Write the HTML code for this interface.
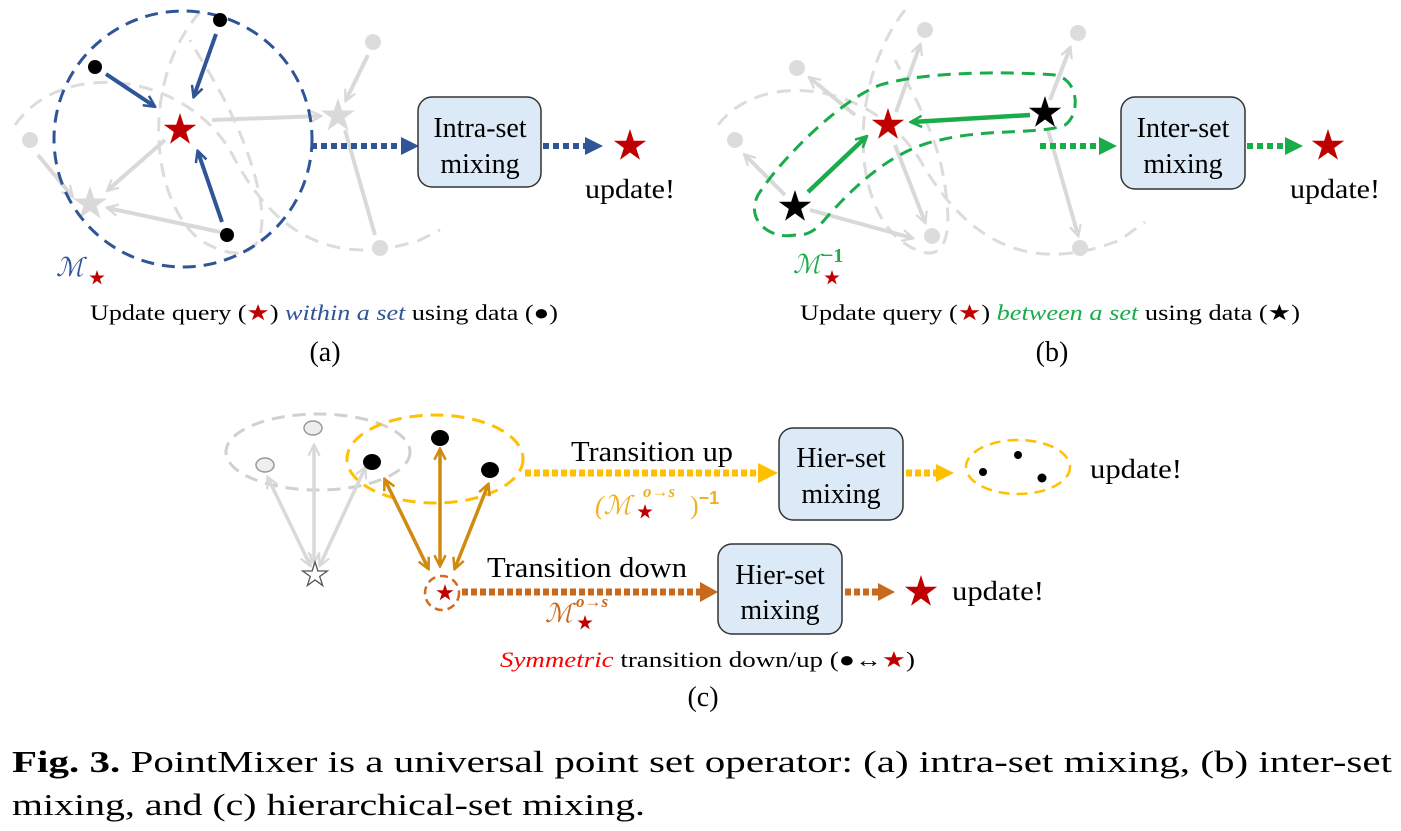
<!DOCTYPE html>
<html><head><meta charset="utf-8"><style>
html,body{margin:0;padding:0;background:#fff}
svg{display:block}
text{font-family:"Liberation Serif",serif}
</style></head><body>
<svg width="1401" height="831" viewBox="0 0 1401 831" xmlns="http://www.w3.org/2000/svg">
<defs>
<path id="st" d="M0,-1 L0.225,-0.309 L0.951,-0.309 L0.363,0.118 L0.588,0.809 L0,0.382 L-0.588,0.809 L-0.363,0.118 L-0.951,-0.309 L-0.225,-0.309Z"/>
<marker id="agg" viewBox="0 0 10 10" markerWidth="14" markerHeight="14" refX="8" refY="5" orient="auto-start-reverse" markerUnits="userSpaceOnUse"><path d="M1,1 L9,5 L1,9" fill="none" stroke="#d9d9d9" stroke-width="1.6"/></marker>
<marker id="ab" viewBox="0 0 10 10" markerWidth="14" markerHeight="14" refX="8" refY="5" orient="auto" markerUnits="userSpaceOnUse"><path d="M1,1 L9,5 L1,9" fill="none" stroke="#2f5597" stroke-width="1.8"/></marker>
<marker id="agr" viewBox="0 0 10 10" markerWidth="14" markerHeight="14" refX="8" refY="5" orient="auto" markerUnits="userSpaceOnUse"><path d="M1,1 L9,5 L1,9" fill="none" stroke="#1aab4b" stroke-width="1.8"/></marker>
<marker id="ao" viewBox="0 0 10 10" markerWidth="14" markerHeight="14" refX="8" refY="5" orient="auto-start-reverse" markerUnits="userSpaceOnUse"><path d="M1,1 L9,5 L1,9" fill="none" stroke="#d08a10" stroke-width="1.8"/></marker>
</defs>

<!-- ===== (a) ===== -->
<g fill="none" stroke="#dcdcdc" stroke-width="3" stroke-dasharray="14,9">
<path d="M15,125 C60,60 180,70 230,150 C270,230 330,270 420,240 L440,230"/>
<path d="M200,12 C140,80 150,200 200,240 C250,270 280,250 250,160 C230,100 200,60 190,40"/>
</g>
<g fill="#dcdcdc"><circle cx="30" cy="140" r="8"/><circle cx="373" cy="42" r="8"/><circle cx="380" cy="248" r="8"/></g>
<g stroke="#d9d9d9" stroke-width="4" fill="none" marker-end="url(#agg)">
<line x1="212" y1="120" x2="320" y2="116"/>
<line x1="165" y1="140" x2="108" y2="190"/>
<line x1="220" y1="232" x2="108" y2="208"/>
<line x1="368" y1="55" x2="346" y2="100"/>
<line x1="38" y1="155" x2="72" y2="196"/>
</g>
<line x1="345" y1="130" x2="375" y2="235" stroke="#d9d9d9" stroke-width="4"/>
<use href="#st" transform="translate(338,116) scale(18)" fill="#d9d9d9"/>
<use href="#st" transform="translate(90,204) scale(18)" fill="#d9d9d9"/>
<ellipse cx="183" cy="139" rx="129" ry="128" fill="none" stroke="#2f5597" stroke-width="3" stroke-dasharray="13,8"/>
<g stroke="#2f5597" stroke-width="4" fill="none" marker-end="url(#ab)">
<line x1="106" y1="74" x2="154" y2="106"/>
<line x1="216" y1="34" x2="194" y2="96"/>
<line x1="222" y1="222" x2="198" y2="152"/>
</g>
<g fill="#000"><circle cx="220" cy="20" r="7"/><circle cx="95" cy="67" r="7"/><circle cx="227" cy="235" r="7"/></g>
<use href="#st" transform="translate(180,130) scale(17)" fill="#c00000"/>
<line x1="311" y1="146" x2="402" y2="146" stroke="#2f5597" stroke-width="6" stroke-dasharray="6,4"/>
<path d="M401,137 L419,146 L401,155Z" fill="#2f5597"/>
<rect x="418" y="97" width="123" height="90" rx="14" fill="#dce9f6" stroke="#333" stroke-width="1.5"/>
<text x="480" y="137" font-size="28" text-anchor="middle">Intra-set</text>
<text x="480" y="173" font-size="28" text-anchor="middle">mixing</text>
<line x1="543" y1="146" x2="586" y2="146" stroke="#2f5597" stroke-width="6" stroke-dasharray="6,4"/>
<path d="M585,137 L603,146 L585,155Z" fill="#2f5597"/>
<use href="#st" transform="translate(630,146) scale(17)" fill="#c00000"/>
<text x="585" y="198" font-size="27" textLength="90" lengthAdjust="spacingAndGlyphs">update!</text>
<text x="56" y="276" font-size="26" font-style="italic" fill="#2f5597">ℳ</text>
<use href="#st" transform="translate(97,278) scale(8)" fill="#c00000"/>
<text x="90" y="320" font-size="22" textLength="468" lengthAdjust="spacingAndGlyphs">Update query (<tspan fill="#c00000">★</tspan>) <tspan font-style="italic" fill="#2f5597">within a set</tspan>  using data (●)</text>
<text x="325" y="361" font-size="28" text-anchor="middle">(a)</text>

<!-- ===== (b) ===== -->
<g fill="none" stroke="#dcdcdc" stroke-width="3" stroke-dasharray="14,9">
<path d="M718,125 C760,70 870,80 920,160 C960,230 1020,280 1120,240 L1145,222"/>
<path d="M905,10 C850,80 850,200 900,240 C940,270 960,250 940,160 C925,110 905,80 895,60"/>
</g>
<g fill="#dcdcdc"><circle cx="925" cy="30" r="8"/><circle cx="1078" cy="33" r="8"/><circle cx="797" cy="68" r="8"/><circle cx="735" cy="140" r="8"/><circle cx="932" cy="236" r="8"/><circle cx="1080" cy="248" r="8"/></g>
<g stroke="#d9d9d9" stroke-width="4" fill="none" marker-end="url(#agg)">
<line x1="896" y1="112" x2="920" y2="45"/>
<line x1="1050" y1="100" x2="1070" y2="48"/>
<line x1="855" y1="115" x2="810" y2="78"/>
<line x1="785" y1="195" x2="745" y2="155"/>
<line x1="810" y1="210" x2="912" y2="238"/>
<line x1="895" y1="145" x2="925" y2="222"/>
<line x1="1048" y1="130" x2="1078" y2="235"/>
</g>
<path d="M795,235 C770,240 745,220 758,195 C780,160 840,100 880,85 C930,70 1020,72 1055,75 C1080,80 1080,115 1065,125 C1040,135 990,128 940,140 C890,150 850,190 820,225 C812,233 803,236 795,235Z" fill="none" stroke="#1aab4b" stroke-width="3" stroke-dasharray="13,8"/>
<g stroke="#1aab4b" stroke-width="4.5" fill="none" marker-end="url(#agr)">
<line x1="1030" y1="115" x2="912" y2="122"/>
<line x1="808" y1="192" x2="866" y2="137"/>
</g>
<use href="#st" transform="translate(888,125) scale(17)" fill="#c00000"/>
<use href="#st" transform="translate(1045,113) scale(17)" fill="#000"/>
<use href="#st" transform="translate(795,207) scale(17)" fill="#000"/>
<line x1="1040" y1="146" x2="1100" y2="146" stroke="#1aab4b" stroke-width="6" stroke-dasharray="6,4"/>
<path d="M1099,137 L1117,146 L1099,155Z" fill="#1aab4b"/>
<rect x="1121" y="97" width="124" height="92" rx="14" fill="#dce9f6" stroke="#333" stroke-width="1.5"/>
<text x="1183" y="137" font-size="28" text-anchor="middle">Inter-set</text>
<text x="1183" y="173" font-size="28" text-anchor="middle">mixing</text>
<line x1="1247" y1="146" x2="1286" y2="146" stroke="#1aab4b" stroke-width="6" stroke-dasharray="6,4"/>
<path d="M1285,137 L1303,146 L1285,155Z" fill="#1aab4b"/>
<use href="#st" transform="translate(1328,146) scale(17)" fill="#c00000"/>
<text x="1290" y="198" font-size="27" textLength="90" lengthAdjust="spacingAndGlyphs">update!</text>
<text x="793" y="273" font-size="26" font-style="italic" fill="#1aab4b">ℳ</text>
<text x="822" y="262" font-size="20" font-weight="bold" fill="#1aab4b" font-family="Liberation Sans,sans-serif">−1</text>
<use href="#st" transform="translate(832,278) scale(8)" fill="#c00000"/>
<text x="800" y="320" font-size="22" textLength="500" lengthAdjust="spacingAndGlyphs">Update query (<tspan fill="#c00000">★</tspan>) <tspan font-style="italic" fill="#1aab4b">between a set</tspan>  using data (★)</text>
<text x="1052" y="361" font-size="28" text-anchor="middle">(b)</text>

<!-- ===== (c) ===== -->
<ellipse cx="318" cy="452" rx="92" ry="38" fill="none" stroke="#d0d0d0" stroke-width="3" stroke-dasharray="13,8"/>
<g stroke="#d9d9d9" stroke-width="3.5" fill="none" marker-end="url(#agg)" marker-start="url(#agg)">
<line x1="310" y1="565" x2="268" y2="478"/>
<line x1="314" y1="562" x2="314" y2="446"/>
<line x1="320" y1="565" x2="365" y2="468"/>
</g>
<ellipse cx="313" cy="428" rx="9" ry="7" fill="#eee" stroke="#999" stroke-width="1.5"/>
<ellipse cx="265" cy="465" rx="9" ry="7" fill="#eee" stroke="#999" stroke-width="1.5"/>
<use href="#st" transform="translate(315,575) scale(13)" fill="#fff" stroke="#555" stroke-width="0.1"/>
<ellipse cx="435" cy="459" rx="88" ry="44" fill="none" stroke="#ffc000" stroke-width="3" stroke-dasharray="13,8"/>
<g stroke="#d08a10" stroke-width="3.5" fill="none" marker-end="url(#ao)" marker-start="url(#ao)">
<line x1="428" y1="568" x2="385" y2="480"/>
<line x1="440" y1="565" x2="440" y2="450"/>
<line x1="455" y1="568" x2="488" y2="485"/>
</g>
<ellipse cx="440" cy="438" rx="9" ry="8" fill="#000"/>
<ellipse cx="372" cy="462" rx="9" ry="8" fill="#000"/>
<ellipse cx="490" cy="470" rx="9" ry="8" fill="#000"/>
<circle cx="442" cy="593" r="17" fill="none" stroke="#d46a1a" stroke-width="2.5" stroke-dasharray="8,5"/>
<use href="#st" transform="translate(445,593) scale(9)" fill="#c00000"/>
<line x1="525" y1="473" x2="760" y2="473" stroke="#ffc000" stroke-width="7" stroke-dasharray="6,3"/>
<path d="M758,463 L778,473 L758,483Z" fill="#ffc000"/>
<text x="571" y="461" font-size="28" textLength="162" lengthAdjust="spacingAndGlyphs">Transition up</text>
<text x="595" y="514" font-size="26" fill="#f0b020" font-style="italic">(ℳ</text>
<text x="643" y="497" font-size="17" fill="#f0b020" font-style="italic" font-weight="bold">o→s</text>
<text x="690" y="514" font-size="26" fill="#f0b020">)<tspan font-size="18" font-weight="bold" dy="-10" font-family="Liberation Sans,sans-serif">−1</tspan></text>
<use href="#st" transform="translate(645,512) scale(8)" fill="#c00000"/>
<rect x="779" y="428" width="124" height="92" rx="14" fill="#dce9f6" stroke="#333" stroke-width="1.5"/>
<text x="841" y="467" font-size="28" text-anchor="middle">Hier-set</text>
<text x="841" y="503" font-size="28" text-anchor="middle">mixing</text>
<line x1="906" y1="473" x2="938" y2="473" stroke="#ffc000" stroke-width="7" stroke-dasharray="6,3"/>
<path d="M936,464 L954,473 L936,482Z" fill="#ffc000"/>
<ellipse cx="1018" cy="467" rx="52" ry="27" fill="none" stroke="#ffc000" stroke-width="2.5" stroke-dasharray="11,7"/>
<circle cx="1018" cy="455" r="4" fill="#000"/><circle cx="983" cy="472" r="4" fill="#000"/><circle cx="1042" cy="478" r="4.5" fill="#000"/>
<text x="1090" y="478" font-size="27" textLength="92" lengthAdjust="spacingAndGlyphs">update!</text>
<line x1="462" y1="592" x2="702" y2="592" stroke="#c8691c" stroke-width="7" stroke-dasharray="6,3"/>
<path d="M700,582 L718,592 L700,602Z" fill="#c8691c"/>
<text x="487" y="577" font-size="28" textLength="200" lengthAdjust="spacingAndGlyphs">Transition down</text>
<text x="545" y="622" font-size="26" fill="#c8691c" font-style="italic">ℳ</text>
<text x="576" y="607" font-size="17" fill="#c8691c" font-style="italic" font-weight="bold">o→s</text>
<use href="#st" transform="translate(585,623) scale(8)" fill="#c00000"/>
<rect x="718" y="544" width="124" height="90" rx="14" fill="#dce9f6" stroke="#333" stroke-width="1.5"/>
<text x="780" y="584" font-size="28" text-anchor="middle">Hier-set</text>
<text x="780" y="619" font-size="28" text-anchor="middle">mixing</text>
<line x1="845" y1="592" x2="880" y2="592" stroke="#c8691c" stroke-width="7" stroke-dasharray="6,3"/>
<path d="M878,583 L895,592 L878,601Z" fill="#c8691c"/>
<use href="#st" transform="translate(921,592) scale(17)" fill="#c00000"/>
<text x="952" y="600" font-size="27" textLength="92" lengthAdjust="spacingAndGlyphs">update!</text>
<text x="500" y="667" font-size="22" textLength="415" lengthAdjust="spacingAndGlyphs"><tspan fill="#ff0000" font-style="italic">Symmetric</tspan> transition down/up (●↔<tspan fill="#c00000">★</tspan>)</text>
<text x="703" y="706" font-size="28" text-anchor="middle">(c)</text>

<!-- caption -->
<text x="12" y="772" font-size="31" textLength="1380" lengthAdjust="spacingAndGlyphs"><tspan font-weight="bold">Fig. 3.</tspan> PointMixer is a universal point set operator: (a) intra-set mixing, (b) inter-set</text>
<text x="12" y="815" font-size="31" textLength="633" lengthAdjust="spacingAndGlyphs">mixing, and (c) hierarchical-set mixing.</text>
</svg>
</body></html>
